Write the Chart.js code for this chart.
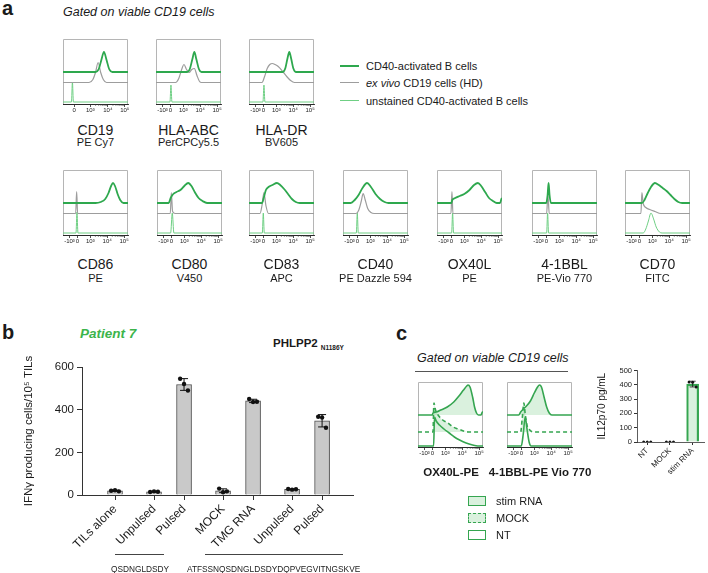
<!DOCTYPE html>
<html><head><meta charset="utf-8">
<script src="https://cdn.jsdelivr.net/npm/chart.js@4.4.1/dist/chart.umd.min.js"></script>
<style>
html,body{margin:0;padding:0;background:#fff;}
#root{position:relative;width:708px;height:573px;overflow:hidden;background:#fff;font-family:"Liberation Sans",Arial,Helvetica,sans-serif;color:#1a1a1a;}
#root .t{position:absolute;white-space:nowrap;line-height:1;}
#root canvas{position:absolute;}
#root .ln{position:absolute;height:0;}
#root .lg{position:absolute;box-sizing:border-box;}
</style></head><body><div id="root"></div>
<script>
// ================= DATA =================
// Panel a
const A_SERIES = ['CD40-activated B cells', 'ex vivo CD19 cells (HD)', 'unstained CD40-activated B cells'];
const A_TOP_MARKERS = ['CD19', 'HLA-ABC', 'HLA-DR'];
const A_TOP_FLUORS = ['PE Cy7', 'PerCPCy5.5', 'BV605'];
const A_BOTTOM_MARKERS = ['CD86', 'CD80', 'CD83', 'CD40', 'OX40L', '4-1BBL', 'CD70'];
const A_BOTTOM_FLUORS = ['PE', 'V450', 'APC', 'PE Dazzle 594', 'PE', 'PE-Vio 770', 'FITC'];
const HIST_TICK_LABELS = ['-10³', '0', '10³', '10⁴', '10⁵'];
const HIST_TICK_VALUES = [10, 22, 42, 68, 94];
const CD19_TICK_LABELS = ['0', '10³', '10⁴', '10⁵'];
const CD19_TICK_VALUES = [17, 42, 69, 95];

// histogram curves: [x (axis display units 0-100), height]
const CD19_ACT = [[0,0],[50,0],[55,3],[59,12],[63,20],[67,12],[71,3],[76,0],[100,0]];
const CD19_EXV = [[0,0],[40,0],[46,3],[50,10],[54,20],[58,10],[62,3],[67,0],[100,0]];
const CD19_UNS = [[0,0],[13,0],[14.5,20],[16,0],[100,0]];
const HLAABC_ACT = [[0,0],[48,0],[52,3],[56,13],[59,20],[62,13],[66,3],[70,0],[100,0]];
const HLAABC_EXV = [[0,0],[30,0],[35,4],[40,14],[43,18],[47,13],[51,10],[55,13],[59,14],[63,7],[67,1],[70,0],[100,0]];
const HLAABC_UNS = [[0,0],[21.5,0],[23,17],[24.5,0],[100,0]];
const HLADR_ACT = [[0,0],[52,0],[56,4],[59,13],[62,20],[65,13],[68,4],[72,0],[100,0]];
const HLADR_EXV = [[0,0],[20,0],[24,6],[28,14],[32,18],[36,19],[40,18],[45,16],[52,11],[58,6],[64,2],[70,0],[100,0]];
const HLADR_UNS = [[0,0],[21.5,0],[23,17],[24.5,0],[100,0]];
const CD86_ACT = [[0,0],[50,0],[58,1],[65,4],[70,10],[74,17],[77,20],[80,17],[84,9],[88,3],[93,0],[100,0]];
const CD86_EXV = [[0,0],[19.5,0],[21,22],[22.5,0],[100,0]];
const CD86_UNS = [[0,0],[20,0],[21.5,21],[23,0],[100,0]];
const CD80_ACT = [[0,0],[18,0],[21,5],[25,9],[30,11],[36,13],[42,17],[48,20],[53,17],[58,11],[64,5],[70,2],[77,0],[100,0]];
const CD80_EXV = [[0,0],[20.5,0],[22,21],[24,2],[28,0],[100,0]];
const CD80_UNS = [[0,0],[21,0],[23.5,20],[26,0],[100,0]];
const CD83_ACT = [[0,0],[20,0],[23,6],[26,13],[30,16],[36,18],[43,20],[48,18],[54,14],[60,9],[66,4],[72,1],[78,0],[100,0]];
const CD83_EXV = [[0,0],[17,0],[20,8],[23,21],[26,8],[30,0],[100,0]];
const CD83_UNS = [[0,0],[20.5,0],[22,20],[23.5,0],[100,0]];
const CD40_ACT = [[0,0],[12,0],[18,3],[24,8],[30,15],[37,20],[43,16],[50,9],[57,4],[64,1],[70,0],[100,0]];
const CD40_EXV = [[0,0],[20,0],[24,3],[28,12],[31,20],[34,14],[38,5],[43,1],[48,0],[100,0]];
const CD40_UNS = [[0,0],[20.5,0],[22,20],[23.5,0],[100,0]];
const OX40L_ACT = [[0,0],[22,0],[23.5,3],[28,5],[35,7],[42,9],[50,13],[57,18],[63,20],[68,17],[74,11],[80,5],[86,2],[92,0],[97,0],[99,4],[100,5]];
const OX40L_EXV = [[0,0],[21.5,0],[23,22],[24.5,0],[100,0]];
const OX40L_UNS = [[0,0],[22.5,0],[24,20],[25.5,0],[100,0]];
const BBL_ACT = [[0,0],[22,0],[24,8],[25.5,20],[27,8],[29,0],[100,0]];
const BBL_EXV = [[0,0],[22.5,0],[24.5,19],[26.5,0],[100,0]];
const BBL_UNS = [[0,0],[22.5,0],[24,20],[25.5,0],[100,0]];
const CD70_ACT = [[0,0],[26,0],[30,3],[35,10],[40,16],[46,20],[52,18],[58,15],[64,12],[70,8],[76,4],[82,1],[88,0],[100,0]];
const CD70_EXV = [[0,0],[24.5,0],[26,21],[28,10],[32,6],[38,4],[46,2],[55,0],[100,0]];
const CD70_UNS = [[0,0],[28,0],[32,4],[36,12],[40,20],[44,14],[48,6],[53,1],[57,0],[100,0]];

// Panel b
const B_CATEGORIES = ['TILs alone', 'Unpulsed', 'Pulsed', 'MOCK', 'TMG RNA', 'Unpulsed', 'Pulsed'];
const B_GROUPS = [0, 1, 1, 2, 2, 3, 3];
const B_MEANS = [20, 15, 518, 20, 441, 27, 348];
const B_REPLICATES = [[20, 22, 17], [14, 17, 15], [545, 520, 490], [30, 13, 17], [450, 436, 437], [28, 25, 27], [367, 363, 315]];
const B_Y_TICKS = [0, 200, 400, 600];
const B_PEPTIDES = ['QSDNGLDSDY', 'ATFSSNQSDNGLDSDYDQPVEGVITNGSKVE'];

// Panel c
const C_SERIES = ['stim RNA', 'MOCK', 'NT'];
const C_HIST_LABELS = ['OX40L-PE', '4-1BBL-PE Vio 770'];
const OX40LC_STIM = [[0,0],[22,0],[23,2],[28,3],[35,5],[45,8],[55,13],[63,19],[70,25],[75,29],[77,30],[80,28],[84,18],[87,8],[90,2],[93,0],[97,0],[99,3],[100,3]];
const OX40LC_MOCK = [[0,0],[23,0],[24.5,29],[27,22],[32,16],[38,12],[46,9],[54,5],[62,3],[70,1],[78,0],[100,0]];
const OX40LC_NT = [[0,0],[24,0],[25.5,29],[28,25],[33,21],[40,17],[48,13],[56,9],[64,6],[74,3],[84,1],[92,0],[100,0]];
const BBLC_STIM = [[0,0],[18,0],[21,3],[25,6],[30,9],[36,14],[42,22],[47,28],[50,30],[53,28],[57,18],[61,8],[65,2],[69,0],[100,0]];
const BBLC_MOCK = [[0,0],[21,0],[23.5,14],[26,29],[28,18],[31,6],[35,2],[40,0],[100,0]];
const BBLC_NT = [[0,0],[22,0],[25,12],[28,29],[31,16],[34,4],[37,0],[100,0]];
const C_CATEGORIES = ['NT', 'MOCK', 'stim RNA'];
const C_MEANS = [0, 0, 405];
const C_REPLICATES = [[0, 0, 0], [0, 0, 0], [420, 417, 384]];
const C_Y_TICKS = [0, 100, 200, 300, 400, 500];

// ================= RENDER =================
const FONT = '"Liberation Sans", Arial, Helvetica, sans-serif';
Chart.defaults.font.family = FONT;
Chart.defaults.color = '#1a1a1a';
const root = document.getElementById('root');
const G_ACT = '#2ea84e', G_EXV = '#9d9d9d', G_UNS = '#6fcf84', G_C = '#35a550', G_FILL = 'rgba(70,185,90,0.2)';

function txt(html, x, y, size, o = {}) {
  const e = document.createElement('div');
  e.className = 't';
  e.innerHTML = html;
  e.style.fontSize = size + 'px';
  e.style.left = x + 'px';
  e.style.top = y + 'px';
  if (o.bold) e.style.fontWeight = 'bold';
  if (o.italic) e.style.fontStyle = 'italic';
  if (o.color) e.style.color = o.color;
  e.style.transform = o.left ? 'translate(0,-50%)' : 'translate(-50%,-50%)';
  root.appendChild(e);
  return e;
}
function hline(x1, x2, y, color, w, style) {
  const e = document.createElement('div');
  e.className = 'ln';
  e.style.left = x1 + 'px'; e.style.width = (x2 - x1) + 'px'; e.style.top = (y - w / 2) + 'px';
  e.style.borderTop = w + 'px ' + (style || 'solid') + ' ' + color;
  root.appendChild(e);
}
function canvasAt(w, h) {
  const c = document.createElement('canvas');
  c.width = w; c.height = h; c.style.width = w + 'px'; c.style.height = h + 'px';
  root.appendChild(c);
  return c;
}
function place(chart, cv, left, top) {
  const a = chart.chartArea;
  cv.style.left = (left - a.left) + 'px';
  cv.style.top = (top - a.top) + 'px';
}

// ---------- histograms ----------
const HIST_W = 65, HIST_H = 65, HPAD = 14, HAXIS = 13;
const histFrame = {
  id: 'histFrame',
  beforeDatasetsDraw(ch, args, opts) {
    const { ctx, chartArea: a } = ch;
    const xs = ch.scales.x;
    ctx.save();
    ctx.strokeStyle = '#b5b5b5'; ctx.lineWidth = 1;
    ctx.beginPath();
    ctx.moveTo(a.left + 0.5, a.bottom); ctx.lineTo(a.left + 0.5, a.top + 0.5);
    ctx.lineTo(a.right - 0.5, a.top + 0.5); ctx.lineTo(a.right - 0.5, a.bottom);
    ctx.stroke();
    const dec = opts.decades || [];
    ctx.strokeStyle = '#333'; ctx.lineWidth = 0.7;
    ctx.beginPath();
    for (let i = 0; i < dec.length - 1; i++) {
      for (let k = 2; k < 10; k++) {
        const px = xs.getPixelForValue(dec[i] + (dec[i + 1] - dec[i]) * Math.log10(k));
        ctx.moveTo(px, a.bottom); ctx.lineTo(px, a.bottom + 1.7);
      }
    }
    ctx.stroke();
    ctx.restore();
  }
};
function hist(left, top, series, tickValues, tickLabels) {
  const W = HIST_W + 2 * HPAD, H = HIST_H + HAXIS + 1;
  const cv = canvasAt(W, H);
  const ch = new Chart(cv, {
    type: 'line',
    data: {
      datasets: series.map(s => ({
        data: s.pts.map(p => ({ x: p[0], y: p[1] + s.base })),
        borderColor: s.color, borderWidth: s.width, borderDash: s.dash || [],
        backgroundColor: s.fill || 'rgba(0,0,0,0)',
        fill: s.fill ? { value: s.base } : false,
        pointRadius: 0, cubicInterpolationMode: 'monotone',
        borderCapStyle: 'butt', borderJoinStyle: 'round'
      }))
    },
    options: {
      responsive: false, animation: false, events: [],
      layout: { padding: { left: HPAD, right: HPAD, top: 1, bottom: 0 } },
      plugins: { legend: { display: false }, tooltip: { enabled: false }, histFrame: { decades: tickValues.slice(-3) } },
      scales: {
        x: {
          type: 'linear', min: 0, max: 100, offset: false,
          afterBuildTicks: s => { s.ticks = tickValues.map(v => ({ value: v })); },
          afterFit: s => { s.height = HAXIS; },
          ticks: { autoSkip: false, maxRotation: 0, minRotation: 0, padding: 0, font: { size: 6 }, color: '#222', callback: (v, i) => tickLabels[i] },
          grid: { drawOnChartArea: false, tickLength: 3, color: '#222', lineWidth: 0.8, offset: false },
          border: { color: '#2a2a2a', width: 1 }
        },
        y: { display: false, min: 0, max: HIST_H }
      }
    },
    plugins: [histFrame]
  });
  place(ch, cv, left, top);
}
const A_STYLE = [
  { base: 32, color: G_ACT, width: 1.8 },
  { base: 21.5, color: G_EXV, width: 1.2 },
  { base: 2, color: G_UNS, width: 1.0 }
];
const C_STYLE = [
  { base: 32, color: G_C, width: 1.6, fill: G_FILL },
  { base: 15, color: G_C, width: 1.6, dash: [4, 3], fill: G_FILL },
  { base: 1, color: G_C, width: 1.6 }
];
function withStyle(curves, styles) { return curves.map((c, i) => Object.assign({ pts: c }, styles[i])); }

// Panel a
txt('a', 2, 8, 20, { bold: true, left: true });
txt('Gated on viable CD19 cells', 63, 12, 12.5, { italic: true, left: true });
const TOP_CURVES = [[CD19_ACT, CD19_EXV, CD19_UNS], [HLAABC_ACT, HLAABC_EXV, HLAABC_UNS], [HLADR_ACT, HLADR_EXV, HLADR_UNS]];
const TOP_LEFTS = [63, 156, 249];
TOP_CURVES.forEach((cs, i) => {
  const tv = i === 0 ? CD19_TICK_VALUES : HIST_TICK_VALUES;
  const tl = i === 0 ? CD19_TICK_LABELS : HIST_TICK_LABELS;
  hist(TOP_LEFTS[i], 39, withStyle(cs, A_STYLE), tv, tl);
  txt(A_TOP_MARKERS[i], TOP_LEFTS[i] + HIST_W / 2, 130, 14);
  txt(A_TOP_FLUORS[i], TOP_LEFTS[i] + HIST_W / 2, 142, 11);
});
const BOTTOM_CURVES = [[CD86_ACT, CD86_EXV, CD86_UNS], [CD80_ACT, CD80_EXV, CD80_UNS], [CD83_ACT, CD83_EXV, CD83_UNS], [CD40_ACT, CD40_EXV, CD40_UNS], [OX40L_ACT, OX40L_EXV, OX40L_UNS], [BBL_ACT, BBL_EXV, BBL_UNS], [CD70_ACT, CD70_EXV, CD70_UNS]];
const BOTTOM_LEFTS = [63, 157, 249, 343, 437, 532, 625];
BOTTOM_CURVES.forEach((cs, i) => {
  hist(BOTTOM_LEFTS[i], 170, withStyle(cs, A_STYLE), HIST_TICK_VALUES, HIST_TICK_LABELS);
  txt(A_BOTTOM_MARKERS[i], BOTTOM_LEFTS[i] + HIST_W / 2, 264, 14);
  txt(A_BOTTOM_FLUORS[i], BOTTOM_LEFTS[i] + HIST_W / 2, 278, 11);
});
// legend a
const A_LEG_Y = [66, 83, 101];
A_STYLE.forEach((s, i) => {
  hline(340, 359, A_LEG_Y[i], s.color, i === 0 ? 2.2 : 1.3);
  txt(A_SERIES[i].replace(/^ex vivo/, '<i>ex vivo</i>'), 366, A_LEG_Y[i], 11, { left: true });
});

// ---------- Panel b ----------
txt('b', 2, 332, 20, { bold: true, left: true });
txt('Patient 7', 80, 334, 13.5, { bold: true, italic: true, left: true, color: '#3cb44b' });
txt('PHLPP2<span style="font-size:6.5px;position:relative;top:3px;margin-left:3px">N1186Y</span>', 273, 344, 11.5, { bold: true, left: true });
const bPos = B_GROUPS.map((g, i) => i + g * 0.3);
const JIT = [-0.13, 0, 0.13];
const errBars = {
  id: 'errBars',
  afterDatasetDraw(ch, args, opts) {
    if (args.index !== 0) return;
    const { ctx } = ch;
    const xs = ch.scales.x, ys = ch.scales.y;
    ctx.save();
    ctx.strokeStyle = '#111'; ctx.lineWidth = opts.lw;
    opts.reps.forEach((r, i) => {
      const m = opts.means[i];
      const mu = r.reduce((a, b) => a + b, 0) / r.length;
      const sd = Math.sqrt(r.reduce((a, b) => a + (b - mu) * (b - mu), 0) / (r.length - 1));
      if (sd < 1) return;
      const x = xs.getPixelForValue(opts.pos[i]);
      const yt = ys.getPixelForValue(m + sd), yb = ys.getPixelForValue(m - sd);
      ctx.beginPath();
      ctx.moveTo(x, yt); ctx.lineTo(x, yb);
      ctx.moveTo(x - opts.cap, yt); ctx.lineTo(x + opts.cap, yt);
      ctx.moveTo(x - opts.cap, yb); ctx.lineTo(x + opts.cap, yb);
      ctx.stroke();
    });
    ctx.restore();
  }
};
{
  const cv = canvasAt(363, 200);
  const ch = new Chart(cv, {
    type: 'bar',
    data: {
      datasets: [
        { type: 'bar', data: B_MEANS.map((v, i) => ({ x: bPos[i], y: v })), backgroundColor: '#c9c9c9', borderColor: '#4d4d4d', borderWidth: 1, barThickness: 15, order: 2 },
        { type: 'scatter', data: B_REPLICATES.flatMap((r, i) => r.map((v, k) => ({ x: bPos[i] + JIT[k], y: v }))), pointRadius: 2.2, pointBackgroundColor: '#111', pointBorderWidth: 0, order: 1 }
      ]
    },
    options: {
      responsive: false, animation: false, events: [],
      layout: { padding: { left: 0, right: 10, top: 12, bottom: 0 } },
      plugins: { legend: { display: false }, tooltip: { enabled: false }, errBars: { reps: B_REPLICATES, means: B_MEANS, pos: bPos, cap: 4, lw: 1 } },
      scales: {
        x: {
          type: 'linear', min: -1.1, max: 7.93, offset: false,
          afterBuildTicks: s => { s.ticks = bPos.map(v => ({ value: v })); },
          afterFit: s => { s.height = 60; },
          ticks: { autoSkip: false, minRotation: 45, maxRotation: 45, padding: 2, font: { size: 12 }, color: '#1a1a1a', callback: (v, i) => B_CATEGORIES[i] },
          grid: { drawOnChartArea: false, tickLength: 5, color: '#333', offset: false },
          border: { color: '#333', width: 1 }
        },
        y: {
          min: 0, max: 600,
          afterBuildTicks: s => { s.ticks = B_Y_TICKS.map(v => ({ value: v })); },
          afterFit: s => { s.width = 82; },
          ticks: { font: { size: 11.5 }, padding: 3, color: '#1a1a1a' },
          grid: { drawOnChartArea: false, tickLength: 5, color: '#333' },
          border: { color: '#333', width: 1 },
          title: { display: true, text: 'IFNγ producing cells/10⁵ TILs', font: { size: 11.5 }, color: '#1a1a1a', padding: { top: 22, bottom: 0 } }
        }
      }
    },
    plugins: [errBars]
  });
  place(ch, cv, 82, 367);
}
hline(115, 164, 554, '#444', 1);
hline(205, 343, 554, '#444', 1);
txt(B_PEPTIDES[0], 140, 569, 8.3);
txt(B_PEPTIDES[1], 187, 569, 8.3, { left: true });

// ---------- Panel c ----------
txt('c', 396, 333, 20, { bold: true, left: true });
txt('Gated on viable CD19 cells', 417, 358, 12.5, { italic: true, left: true });
hline(415, 568, 371, '#555', 1);
const C_CURVES = [[OX40LC_STIM, OX40LC_MOCK, OX40LC_NT], [BBLC_STIM, BBLC_MOCK, BBLC_NT]];
const C_LEFTS = [418, 507];
C_CURVES.forEach((cs, i) => {
  hist(C_LEFTS[i], 382, withStyle(cs, C_STYLE), HIST_TICK_VALUES, HIST_TICK_LABELS);
});
txt(C_HIST_LABELS[0], 451, 473, 11.5, { bold: true });
txt(C_HIST_LABELS[1], 540, 473, 11.5, { bold: true });
const C_LEG_Y = [501, 518, 535];
C_STYLE.forEach((s, i) => {
  const b = document.createElement('div');
  b.className = 'lg';
  b.style.left = '468px'; b.style.top = (C_LEG_Y[i] - 5) + 'px';
  b.style.width = '18px'; b.style.height = '10px';
  b.style.border = '1.5px ' + (s.dash ? 'dashed' : 'solid') + ' ' + s.color;
  b.style.background = s.fill || '#fff';
  root.appendChild(b);
  txt(C_SERIES[i], 496, C_LEG_Y[i], 11, { left: true });
});
{
  const cv = canvasAt(121, 120);
  const ch = new Chart(cv, {
    type: 'bar',
    data: {
      datasets: [
        { type: 'bar', data: C_MEANS.map((v, i) => ({ x: i, y: v })), backgroundColor: 'rgba(70,185,90,0.2)', borderColor: G_C, borderWidth: 1.5, barThickness: 12, order: 2 },
        { type: 'scatter', data: C_REPLICATES.flatMap((r, i) => r.map((v, k) => ({ x: i + JIT[k] * 1.2, y: v }))), pointRadius: 1.5, pointBackgroundColor: '#111', pointBorderWidth: 0, order: 1 }
      ]
    },
    options: {
      responsive: false, animation: false, events: [],
      layout: { padding: { left: 0, right: 0, top: 6, bottom: 0 } },
      plugins: { legend: { display: false }, tooltip: { enabled: false }, errBars: { reps: C_REPLICATES, means: C_MEANS, pos: [0, 1, 2], cap: 3, lw: 0.8 } },
      scales: {
        x: {
          type: 'linear', min: -0.45, max: 2.5, offset: false,
          afterBuildTicks: s => { s.ticks = [0, 1, 2].map(v => ({ value: v })); },
          afterFit: s => { s.height = 42; },
          ticks: { autoSkip: false, minRotation: 45, maxRotation: 45, padding: 1, font: { size: 8 }, color: '#1a1a1a', callback: (v, i) => C_CATEGORIES[i] },
          grid: { drawOnChartArea: false, tickLength: 3, color: '#333', offset: false },
          border: { color: '#333', width: 0.8 }
        },
        y: {
          min: 0, max: 500,
          afterBuildTicks: s => { s.ticks = C_Y_TICKS.map(v => ({ value: v })); },
          afterFit: s => { s.width = 50; },
          ticks: { font: { size: 7.5 }, padding: 2, color: '#1a1a1a' },
          grid: { drawOnChartArea: false, tickLength: 3, color: '#333' },
          border: { color: '#333', width: 0.8 },
          title: { display: true, text: 'IL12p70 pg/mL', font: { size: 10 }, color: '#1a1a1a', padding: { top: 9, bottom: 0 } }
        }
      }
    },
    plugins: [errBars]
  });
  place(ch, cv, 637, 370);
}
</script></body></html>
